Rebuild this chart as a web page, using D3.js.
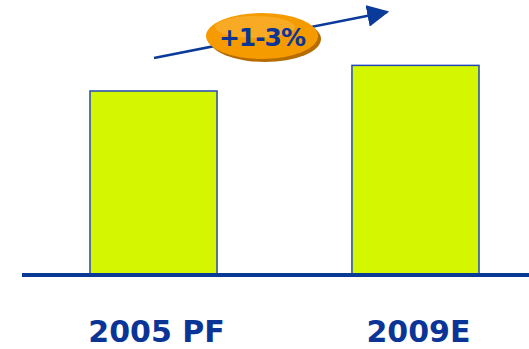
<html>
<head>
<script src="https://d3js.org/d3.v7.min.js"></script>
</head>
<body style="margin:0;background:white">
<script>
// DATA
var categories = ["2005 PF", "2009E"];
var values = [100, 114];
var growthLabel = "+1-3%";

var width = 529, height = 349;
var svg = d3.select("body").append("svg")
	.attr("width", width)
	.attr("height", height)
	.style("display", "block");

var x = d3.scaleBand().domain(categories).range([24.5, 544.5]).paddingInner(0.515).paddingOuter(0.25);
var y = d3.scaleLinear().domain([0, 100]).range([274, 91]);

// bars
svg.selectAll("rect.bar")
	.data(values)
	.enter().append("rect")
	.attr("class", "bar")
	.attr("x", function(d, i){ return x(categories[i]); })
	.attr("y", function(d){ return y(d); })
	.attr("width", x.bandwidth())
	.attr("height", function(d){ return y(0) - y(d); })
	.style("fill", "#d4f600")
	.style("stroke", "#2447b8")
	.style("stroke-width", 1.5);

// baseline
svg.append("rect")
	.attr("x", 22).attr("y", 273)
	.attr("width", 507).attr("height", 4)
	.style("fill", "#0b3a96");

// category labels
svg.selectAll("text.cat")
	.data(categories)
	.enter().append("text")
	.attr("class", "cat")
	.attr("x", function(d){ return x(d) + x.bandwidth() / 2 + 3; })
	.attr("y", 342)
	.attr("text-anchor", "middle")
	.attr("font-family", "DejaVu Sans")
	.attr("font-weight", "bold")
	.attr("font-size", 30)
	.style("fill", "#0a3597")
	.text(function(d){ return d; });

// growth arrow
svg.append("defs").append("marker")
	.attr("id", "head")
	.attr("viewBox", "0 0 10 10")
	.attr("refX", 9).attr("refY", 5)
	.attr("markerWidth", 22).attr("markerHeight", 22)
	.attr("markerUnits", "userSpaceOnUse")
	.attr("orient", "auto")
	.append("path")
	.attr("d", "M0,0 L10,5 L0,10 Z")
	.style("fill", "#0a3a9a");

svg.append("line")
	.attr("x1", 154).attr("y1", 58)
	.attr("x2", 387).attr("y2", 12)
	.style("stroke", "#0a3a9a")
	.style("stroke-width", 2.5)
	.attr("marker-end", "url(#head)");

// badge
svg.append("ellipse")
	.attr("cx", 265).attr("cy", 39).attr("rx", 56).attr("ry", 23)
	.style("fill", "#b56c00");
svg.append("ellipse")
	.attr("cx", 262).attr("cy", 36).attr("rx", 56).attr("ry", 23)
	.style("fill", "#f59b00");
svg.append("ellipse")
	.attr("cx", 255).attr("cy", 27).attr("rx", 40).attr("ry", 11)
	.style("fill", "#fbb94a")
	.style("opacity", 0.5);
svg.append("text")
	.attr("x", 262).attr("y", 46)
	.attr("text-anchor", "middle")
	.attr("font-family", "DejaVu Sans")
	.attr("font-weight", "bold")
	.attr("font-size", 25)
	.attr("letter-spacing", -1)
	.style("fill", "#0a3597")
	.text(growthLabel);
</script>
</body>
</html>
